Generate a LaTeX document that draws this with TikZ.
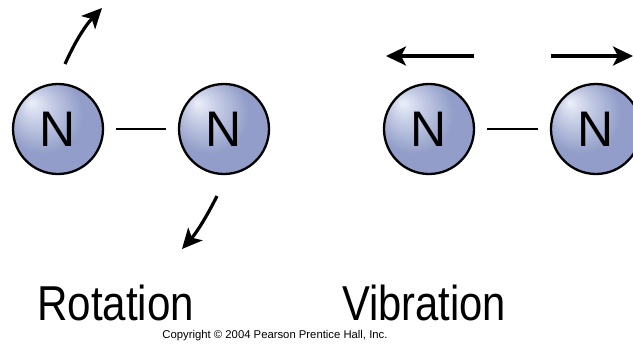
\documentclass[tikz,border=0pt]{standalone}
\usepackage{fontspec}
\setmainfont{Liberation Sans}
\usetikzlibrary{arrows.meta}
\definecolor{atombase}{RGB}{146,158,201}
\definecolor{atomhl}{RGB}{236,239,250}
\pgfdeclareradialshading{atomshade}{\pgfpoint{-15bp}{15bp}}{%
  color(0bp)=(atomhl); color(8bp)=(atomhl!60!atombase); color(22bp)=(atombase);
  color(40bp)=(atombase); color(50bp)=(atombase!92!black)}
\tikzset{
  atom/.style={circle, draw=black, line width=2.3pt, minimum size=90pt, inner sep=0pt,
    shading=atomshade, font=\fontsize{50}{50}\selectfont},
  bond/.style={line width=2.6pt, shorten <=12pt, shorten >=12pt},
  motion/.style={line width=3.2pt, -{Stealth[length=20pt,width=19pt,inset=5pt]}},
  biglabel/.style={font=\fontsize{49}{49}\selectfont, anchor=base west, inner sep=0pt},
}
\begin{document}
\begin{tikzpicture}[x=1pt,y=-1pt]
\useasboundingbox (0,0) rectangle (633,346);
% Rotation
\node[atom] (r1) at (58,129) {N};
\node[atom] (r2) at (224,129) {N};
\draw[bond] (r1) -- (r2);
\coordinate (rt0) at (65,64);
\coordinate (rt1) at (102,8);
\coordinate (rb0) at (217,196);
\coordinate (rb1) at (182,249);
\draw[motion] (rt0) .. controls (74,44) and (84,27) .. (rt1);
\draw[motion] (rb0) .. controls (209,212) and (198,231) .. (rb1);
% Vibration
\node[atom] (v1) at (429,129) {N};
\node[atom] (v2) at (596,129) {N};
\draw[bond] (v1) -- (v2);
\coordinate (vl0) at (474,56);
\coordinate (vl1) at (386,56);
\coordinate (vr0) at (551,56);
\coordinate (vr1) at (633,56);
\draw[motion] (vl0) -- (vl1);
\draw[motion] (vr0) -- (vr1);
% Labels
\node[biglabel] (lr) at (37,320) {\scalebox{0.86}[1]{Rotation}};
\node[biglabel] (lv) at (342,320) {\scalebox{0.852}[1]{Vibration}};
\node[font=\fontsize{11.3}{11.3}\selectfont, anchor=base, inner sep=0pt] (cp) at (275,338)
  {Copyright \textcopyright\ 2004 Pearson Prentice Hall, Inc.};
\end{tikzpicture}
\end{document}
